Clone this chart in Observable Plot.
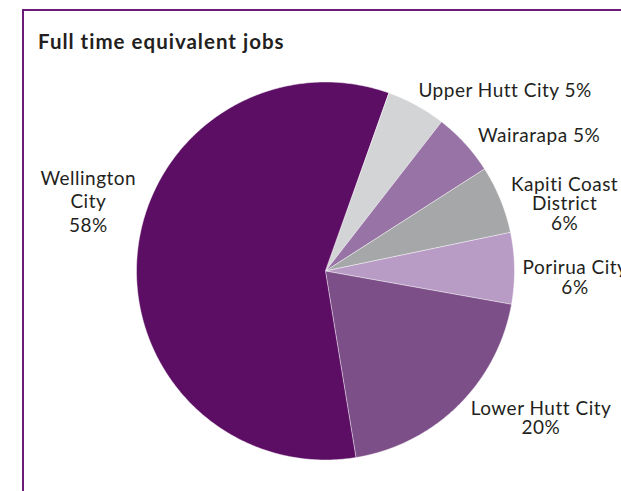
<!DOCTYPE html>
<html>
<head>
<meta charset="utf-8">
<script src="https://cdn.jsdelivr.net/npm/d3@7"></script>
<script src="https://cdn.jsdelivr.net/npm/@observablehq/plot@0.6"></script>
<style>
  html, body { margin: 0; padding: 0; background: #fff; }
  #wrap { position: relative; width: 621px; height: 491px; overflow: hidden; font-family: Lato, "Open Sans", sans-serif; }
  #frame { position: absolute; left: 22px; top: 9px; width: 700px; height: 600px; border-left: 2.5px solid #6b1c78; border-top: 2.5px solid #6b1c78; box-sizing: border-box; }
  #title { position: absolute; left: 38px; top: 29px; font-size: 20.5px; letter-spacing: 1px; font-weight: 700; color: #231f20; white-space: nowrap; }
  #chart { position: absolute; left: 0; top: 0; }
  #chart text { letter-spacing: 0.5px; }
</style>
</head>
<body>
<div id="wrap">
  <div id="frame"></div>
  <div id="title">Full time equivalent jobs</div>
  <div id="chart"></div>
</div>
<script>
// Data (clockwise order, starting at the Upper Hutt / Wellington boundary)
const regions = ["Upper Hutt City", "Wairarapa", "Kapiti Coast District", "Porirua City", "Lower Hutt City", "Wellington City"];
const shares  = [5.1, 5.4, 5.8, 6.1, 19.6, 58.0];
const labels  = ["Upper Hutt City 5%", "Wairarapa 5%", "Kapiti Coast\nDistrict\n6%", "Porirua City\n6%", "Lower Hutt City\n20%", "Wellington\nCity\n58%"];
const colors  = ["#d3d4d6", "#9873a5", "#a6a7a9", "#b89cc6", "#7c4f88", "#5c0e64"];

// Layout (not data): start angle, label anchors (unit-circle coords) and line heights
const startDeg = 19.5;
const labelPos = [[0.95, 0.955], [1.13, 0.715], [1.265, 0.355], [1.32, -0.035], [1.14, -0.78], [-1.255, 0.37]];
const labelLH  = [1, 1, 1.03, 1.05, 1.0, 1.22];

const total = d3.sum(shares);
const slices = [];
let a0 = startDeg * Math.PI / 180;
regions.forEach((name, i) => {
  const a1 = a0 + shares[i] / total * 2 * Math.PI;
  const pts = [{name, x: 0, y: 0}];
  const n = Math.max(4, Math.ceil((a1 - a0) / (Math.PI / 360)));
  for (let k = 0; k <= n; k++) {
    const a = a0 + (a1 - a0) * k / n;
    pts.push({name, x: Math.sin(a), y: Math.cos(a)});
  }
  slices.push({name, pts, color: colors[i]});
  a0 = a1;
});

const labelData = regions.map((name, i) => ({name, text: labels[i], x: labelPos[i][0], y: labelPos[i][1]}));

const cx = 325, cy = 270.5, r = 189;
const chart = Plot.plot({
  width: 621,
  height: 491,
  margin: 0,
  style: {background: "transparent", fontFamily: "Lato, 'Open Sans', sans-serif"},
  x: {domain: [-1, 1], range: [cx - r, cx + r], axis: null},
  y: {domain: [-1, 1], range: [cy + r, cy - r], axis: null},
  marks: [
    ...slices.map(s => Plot.line(s.pts, {x: "x", y: "y", curve: "linear-closed", fill: s.color, stroke: "#ffffff", strokeWidth: 0.6, strokeOpacity: 0.8})),
    ...labelData.map((d, i) => Plot.text([d], {x: "x", y: "y", text: "text", fontSize: 19, lineHeight: labelLH[i], fill: "#231f20", textAnchor: "middle"}))
  ]
});
document.getElementById("chart").appendChild(chart);
</script>
</body>
</html>
